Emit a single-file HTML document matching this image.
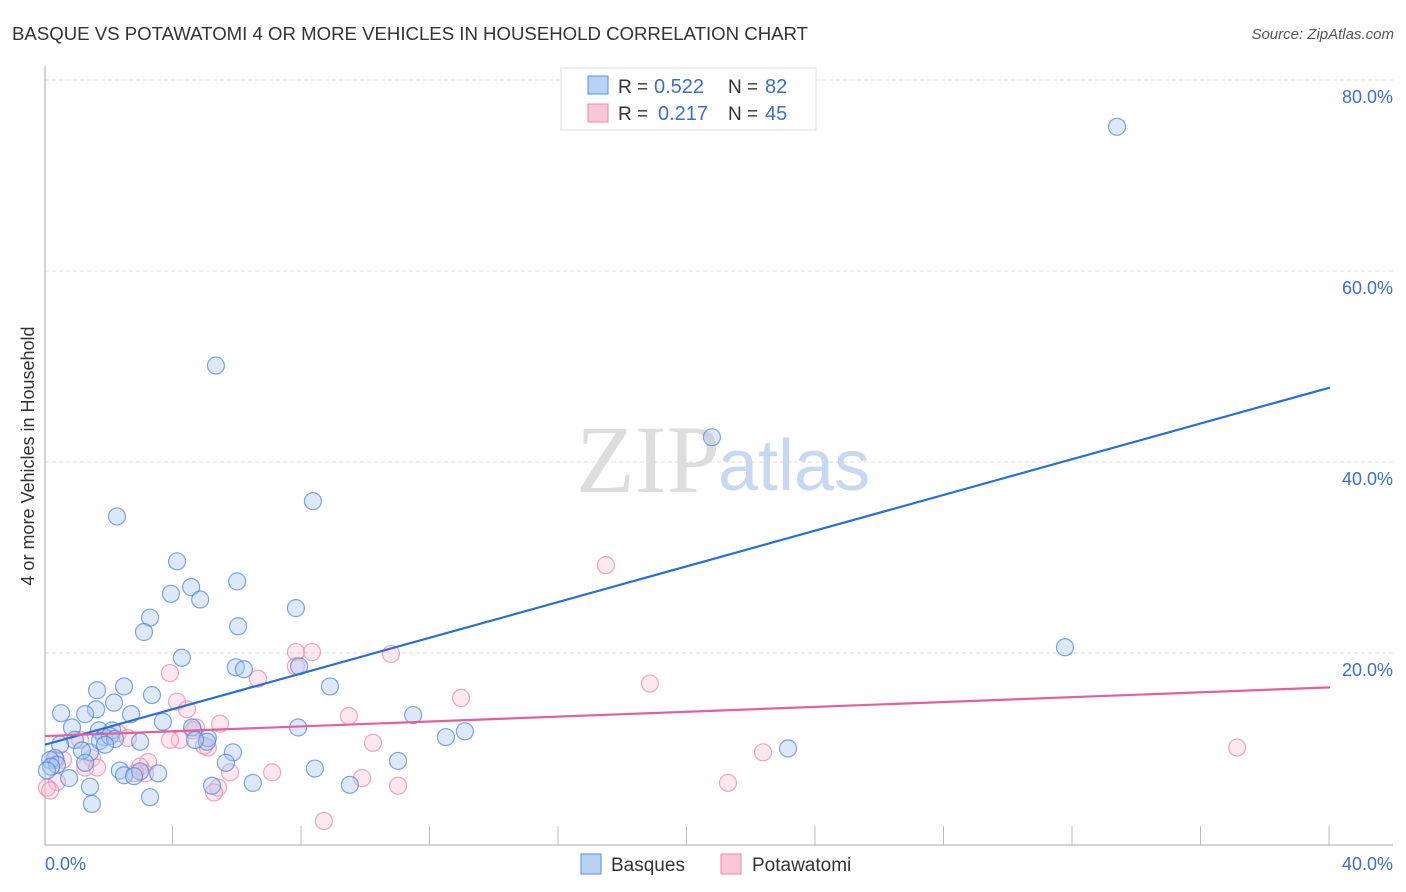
<!DOCTYPE html>
<html><head><meta charset="utf-8"><style>
body{margin:0;background:#fff;font-family:"Liberation Sans",sans-serif}
svg{display:block}
</style></head><body>
<svg width="1406" height="892">
<text x="12" y="40" font-size="18" fill="#333" textLength="796" lengthAdjust="spacingAndGlyphs">BASQUE VS POTAWATOMI 4 OR MORE VEHICLES IN HOUSEHOLD CORRELATION CHART</text>
<text x="1394" y="39" font-size="15" fill="#555" font-style="italic" text-anchor="end">Source: ZipAtlas.com</text>
<g id="grid"></g>
<text x="720" y="492" font-size="96" fill="#ddd" font-family="Liberation Serif,serif" text-anchor="end">ZIP</text>
<text x="718" y="490" font-size="72" fill="#c8d8f0">atlas</text>
<g id="pts"></g>
<g id="lines"></g>
<text transform="translate(34,456) rotate(-90)" font-size="18" fill="#333" text-anchor="middle">4 or more Vehicles in Household</text>
<g>
<rect x="561" y="68" width="255" height="62" fill="#fff" stroke="#ddd"/>
<rect x="588" y="76" width="20" height="18" fill="#b8d2f4" stroke="#5b8fdc"/>
<rect x="588" y="104" width="20" height="18" fill="#f8c8d8" stroke="#e88aa8"/>
<text x="618" y="93" font-size="19" fill="#333">R =</text>
<text x="654" y="93" font-size="20" fill="#3a6fd0">0.522</text>
<text x="728" y="93" font-size="19" fill="#333">N =</text>
<text x="765" y="93" font-size="20" fill="#3a6fd0">82</text>
<text x="618" y="120" font-size="19" fill="#333">R =</text>
<text x="658" y="120" font-size="20" fill="#3a6fd0">0.217</text>
<text x="728" y="120" font-size="19" fill="#333">N =</text>
<text x="765" y="120" font-size="20" fill="#3a6fd0">45</text>
</g>
<g>
<rect x="581" y="854" width="20" height="20" fill="#b8d2f4" stroke="#5b8fdc"/>
<text x="611" y="871" font-size="19" fill="#333">Basques</text>
<rect x="721" y="854" width="20" height="20" fill="#f8c8d8" stroke="#e88aa8"/>
<text x="752" y="871" font-size="19" fill="#333">Potawatomi</text>
</g>
</svg>
<script>
const xTicks=[0,4,8,12,16,20,24,28,32,36,40];
const yTicks=[20,40,60,80];
const yTickLabels=["20.0%","40.0%","60.0%","80.0%"];
const basqueX=[33.37,5.32,20.76,8.34,2.24,4.11,5.98,4.55,3.92,4.83,7.81,3.27,6.01,3.08,4.26,5.94,6.19,7.91,8.87,31.75,2.46,1.62,3.33,2.15,0.50,1.59,1.25,2.68,3.67,11.46,7.88,13.07,12.48,4.58,0.84,2.09,1.68,1.84,2.96,5.07,5.04,4.67,0.93,0.47,1.40,1.15,0.31,0.16,1.25,10.99,5.85,5.63,23.13,2.33,2.96,3.52,2.46,2.77,8.40,0.37,0.75,5.20,6.47,9.49,1.40,3.27,1.46,0.19,0.06,1.71,2.02,2.18,1.87];
const basqueY=[75.1,50.1,42.6,35.9,34.3,29.6,27.5,26.9,26.2,25.6,24.7,23.7,22.8,22.2,19.5,18.5,18.3,18.6,16.5,20.6,16.5,16.1,15.6,14.8,13.7,14.1,13.6,13.6,12.8,13.5,12.2,11.8,11.2,12.2,12.2,11.9,11.9,11.2,10.7,11.1,10.7,10.9,10.9,10.4,9.6,9.8,9.0,8.8,8.5,8.7,9.6,8.5,10.0,7.7,7.6,7.4,7.2,7.1,7.9,8.3,6.9,6.1,6.4,6.2,6.0,4.9,4.2,8.1,7.7,10.8,11.3,11.0,10.4];
const potaX=[17.46,8.31,7.81,10.77,7.81,3.89,6.63,18.83,12.95,4.11,4.42,9.46,4.70,4.61,5.45,4.20,5.07,10.21,22.35,37.11,3.21,1.46,0.56,2.96,0.34,1.25,1.62,3.11,5.76,7.07,5.39,9.87,10.99,21.26,5.26,8.68,0.37,0.06,0.16,2.80,2.27,2.58,1.09,3.89,4.95];
const potaY=[29.2,20.1,20.1,19.9,18.6,17.9,17.3,16.8,15.3,14.9,14.1,13.4,12.2,11.9,12.6,10.9,10.1,10.6,9.6,10.1,8.6,9.0,8.8,8.1,8.8,8.0,8.0,7.4,7.5,7.5,5.9,6.9,6.1,6.4,5.4,2.4,6.5,5.9,5.6,7.4,11.6,11.1,10.9,10.9,10.3];
const basqueTrend=[10.4,47.8];
const potaTrend=[11.3,16.4];
const X0=45,X1=1330,Y0=844,YS=191/20;
const sx=v=>X0+(X1-X0)*v/40, sy=v=>Y0-v*YS;
const NS="http://www.w3.org/2000/svg";
function mk(t,a,p){const e=document.createElementNS(NS,t);for(const k in a)e.setAttribute(k,a[k]);p.appendChild(e);return e;}
const g=document.getElementById('grid');
yTicks.forEach((v,i)=>{
 const l=mk('line',{x1:X0,x2:1393,y1:sy(v),y2:sy(v),stroke:'#ddd','stroke-dasharray':'4,3'},g);
 
 
 const t=mk('text',{x:1393,y:sy(v)+23,'font-size':18,fill:'#3a6fd0','text-anchor':'end'},g);
 t.textContent=yTickLabels[i];
 
 
});
const ax=mk('line',{x1:X0,x2:X0,y1:66,y2:845,stroke:'#aaa'},g);


const bx=mk('line',{x1:X0,x2:1393,y1:845,y2:845,stroke:'#aaa'},g);


xTicks.forEach(v=>{if(v===0)return;const l=mk('line',{x1:sx(v)-1,x2:sx(v)-1,y1:826,y2:845,stroke:'#bbb'},g);
 
 });
[[0,'0.0%',45,'start'],[40,'40.0%',1393,'end']].forEach(a=>{const t=mk('text',{x:a[2],y:870,'font-size':18,fill:'#3a6fd0','text-anchor':a[3]},g);t.textContent=a[1];
 
 });
const p=document.getElementById('pts');
potaX.forEach((x,i)=>{const c=mk('circle',{cx:sx(x),cy:sy(potaY[i]),r:8.5,fill:'rgba(248,190,210,0.35)',stroke:'rgba(232,130,165,0.7)','stroke-width':1.2},p);
 
 });
basqueX.forEach((x,i)=>{const c=mk('circle',{cx:sx(x),cy:sy(basqueY[i]),r:8.5,fill:'rgba(170,200,240,0.4)',stroke:'rgba(70,130,220,0.7)','stroke-width':1.2},p);
 
 });
const L=document.getElementById('lines');
const b=mk('line',{x1:sx(0),y1:sy(basqueTrend[0]),x2:sx(40),y2:sy(basqueTrend[1]),stroke:'#2a6fd6','stroke-width':2.2},L);


const q=mk('line',{x1:sx(0),y1:sy(potaTrend[0]),x2:sx(40),y2:sy(potaTrend[1]),stroke:'#e4609a','stroke-width':2.2},L);


</script>
</body></html>
